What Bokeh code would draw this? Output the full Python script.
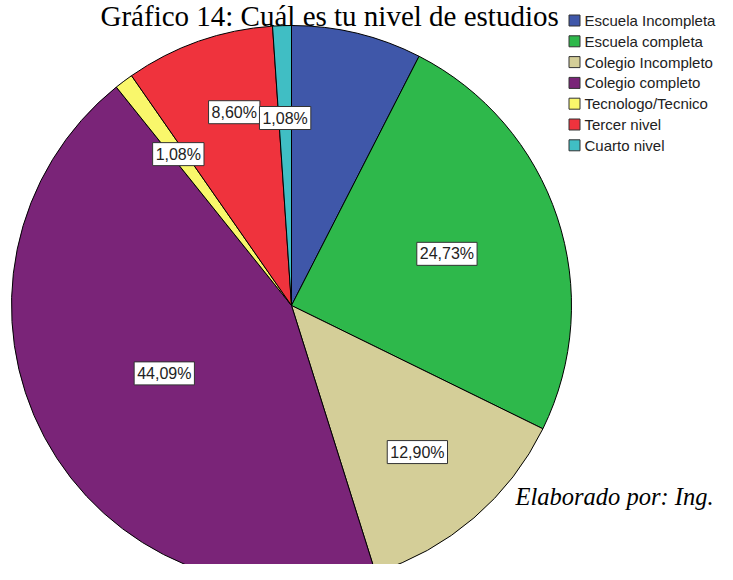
import math
from bokeh.plotting import figure
from bokeh.models import Label
from bokeh.core.properties import value
from bokeh.embed import file_html
from bokeh.resources import INLINE

# ---- data ----
categories = ["Escuela Incompleta", "Escuela completa", "Colegio Incompleto",
              "Colegio completo", "Tecnologo/Tecnico", "Tercer nivel", "Cuarto nivel"]
percents = [7.53, 24.73, 12.90, 44.09, 1.08, 8.60, 1.08]
pct_labels = ["", "24,73%", "12,90%", "44,09%", "1,08%", "8,60%", "1,08%"]
colors = ["#3F57A9", "#2EB84B", "#D4CE98", "#7A2478", "#F9F76B", "#EF333D", "#40BEC4"]
title_text = "Gráfico 14: Cuál es tu nivel de estudios"
note_text = "Elaborado por: Ing."

# ---- styling / layout ----
W, H = 717, 564
CX, CY, R = 291, 259, 280
label_r = [0.6, 0.585, 0.69, 0.515, 0.675, 0.72, 0.67]
label_da = [0, 0, 0, 0, 0, -0.05, 0]   # small angular nudges (radians, + = counter-clockwise)

p = figure(width=W, height=H, x_range=(0, W), y_range=(0, H),
           output_backend="svg", toolbar_location=None, min_border=0)
p.axis.visible = False
p.grid.visible = False
p.outline_line_color = None
p.background_fill_color = "white"

total = sum(percents)
starts, ends, mids = [], [], []
cum = 0.0
for v in percents:
    a0 = math.pi / 2 - 2 * math.pi * cum / total
    cum += v
    a1 = math.pi / 2 - 2 * math.pi * cum / total
    starts.append(a0)
    ends.append(a1)
    mids.append((a0 + a1) / 2)

p.wedge(x=CX, y=CY, radius=R, start_angle=starts, end_angle=ends,
        direction="clock", fill_color=colors, line_color="black", line_width=1)

for txt, m, rf, da in zip(pct_labels, mids, label_r, label_da):
    if not txt:
        continue
    lx = CX + rf * R * math.cos(m + da)
    ly = CY + rf * R * math.sin(m + da)
    p.add_layout(Label(x=lx, y=ly, text=txt, text_align="center", text_baseline="middle",
                       text_font="Liberation Sans", text_font_size="16px", text_color="#222222",
                       background_fill_color="white", border_line_color="#333333",
                       border_line_width=1, padding=3))

# title and note
p.text(x=[100], y=[549], text=[title_text], text_font=value("Liberation Serif"),
       text_font_size="29px", text_color="black", text_baseline="alphabetic", text_align="left")
p.text(x=[515], y=[68], text=[note_text], text_font=value("Liberation Serif"),
       text_font_style="italic", text_font_size="24.5px", text_color="black",
       text_baseline="alphabetic", text_align="left")

# legend
lx0, ly0, step = 574, 544, 20.8
ys = [ly0 - step * i for i in range(len(categories))]
p.rect(x=[lx0] * len(categories), y=ys, width=11, height=11, fill_color=colors,
       line_color="#333333", line_width=1)
p.text(x=[lx0 + 10] * len(categories), y=ys, text=categories,
       text_font=value("Liberation Sans"), text_font_size="15px", text_color="#222222",
       text_baseline="middle", text_align="left")

open("out.html", "w").write(file_html(p, INLINE))
